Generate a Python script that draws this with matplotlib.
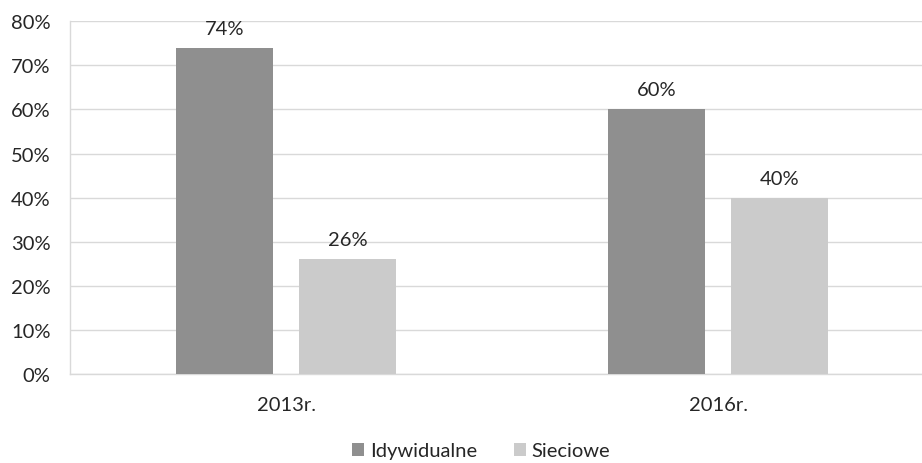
import matplotlib
matplotlib.use('Agg')
import matplotlib.pyplot as plt
import numpy as np

plt.rcParams['font.family'] = ['Lato', 'DejaVu Sans']

categories = ['2013r.', '2016r.']
series_names = ['Idywidualne', 'Sieciowe']
indywidualne = [74, 60]
sieciowe = [26, 40]
yticks = [0, 10, 20, 30, 40, 50, 60, 70, 80]

colors = ['#8f8f8f', '#cbcbcb']
text_color = '#262626'
fs = 14.5

fig = plt.figure(figsize=(9.22, 4.64), dpi=100)
ax = fig.add_axes([70 / 922, 0.1915, 852 / 922, 0.952 - 0.1915])

x = np.arange(len(categories))
width = 0.226
offset = 0.1424

for vals, name, color, off in [(indywidualne, series_names[0], colors[0], -offset),
                               (sieciowe, series_names[1], colors[1], offset)]:
    bars = ax.bar(x + off, vals, width, color=color, label=name, zorder=3)
    for b, v in zip(bars, vals):
        ax.annotate(f'{v}%', xy=(b.get_x() + b.get_width() / 2, v),
                    xytext=(0, 8), textcoords='offset points',
                    ha='center', va='bottom', fontsize=fs, color=text_color)

ax.set_xlim(-0.5, -0.5 + 852 / 432)
ax.set_ylim(0, 80)
ax.set_yticks(yticks)
ax.set_yticklabels([f'{t}%' for t in yticks], fontsize=fs, color=text_color)
ax.set_xticks(x)
ax.set_xticklabels(categories, fontsize=fs, color=text_color)
ax.tick_params(axis='both', length=0)
ax.tick_params(axis='x', pad=16)
ax.tick_params(axis='y', pad=14)

ax.grid(axis='y', color='#d9d9d9', linewidth=1, zorder=0)
for s in ['top', 'right']:
    ax.spines[s].set_visible(False)
for s in ['left', 'bottom']:
    ax.spines[s].set_color('#d9d9d9')
    ax.spines[s].set_linewidth(1)

leg = fig.legend(loc='center', bbox_to_anchor=(0.522, 1 - 452 / 464), ncol=2,
                 frameon=False, fontsize=fs, handlelength=0.6, handleheight=0.6,
                 handletextpad=0.3, columnspacing=1.8)
for t in leg.get_texts():
    t.set_color(text_color)

fig.savefig('out.png', dpi=100)
